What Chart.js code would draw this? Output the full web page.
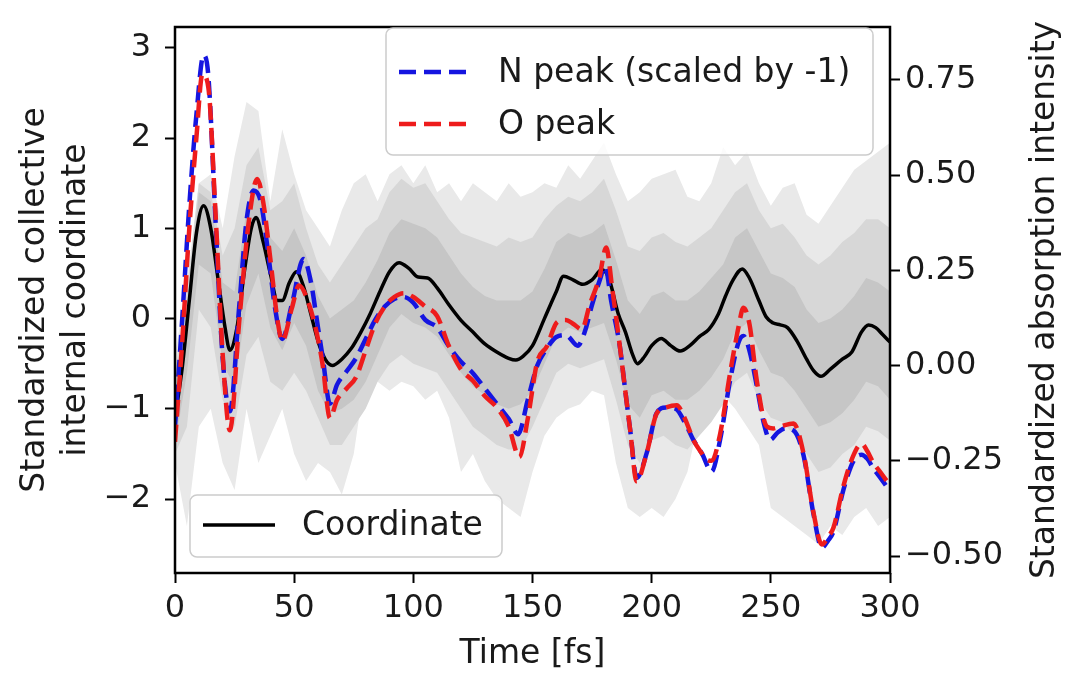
<!DOCTYPE html>
<html>
<head>
<meta charset="utf-8">
<script src="https://cdn.jsdelivr.net/npm/chart.js@4.4.1/dist/chart.umd.min.js"></script>
<style>
    html, body { margin: 0; padding: 0; background: #fff; }
    #wrap { width: 1070px; height: 675px; }
</style>
</head>
<body>
<div id="wrap"><canvas id="chart" width="1070" height="675"></canvas></div>
<script>
// 좌표 (왼쪽 축)
const coordTime = [0, 3, 6, 9, 12, 15, 18, 21, 23, 26, 29, 32, 34, 37, 40, 43, 45, 48, 51, 54, 57, 60, 63, 66, 70, 74, 78, 82, 86, 90, 94, 98, 102, 106, 110, 115, 120, 125, 130, 135, 140, 143, 146, 150, 155, 160, 163, 167, 171, 175, 179, 182, 186, 189, 192, 194, 197, 200, 204, 208, 212, 216, 220, 224, 228, 231, 234, 238, 241, 245, 248, 251, 254, 257, 261, 265, 268, 271, 275, 280, 284, 288, 291, 294, 297, 300];
const coordVals = [-1.1, -0.55, 0.2, 0.95, 1.25, 1.0, 0.45, -0.1, -0.35, -0.1, 0.5, 1.0, 1.12, 0.85, 0.5, 0.2, 0.2, 0.4, 0.52, 0.35, 0.05, -0.25, -0.45, -0.52, -0.45, -0.33, -0.15, 0.06, 0.3, 0.52, 0.62, 0.56, 0.46, 0.45, 0.34, 0.15, -0.02, -0.15, -0.28, -0.37, -0.44, -0.46, -0.42, -0.3, 0.0, 0.3, 0.47, 0.43, 0.38, 0.43, 0.54, 0.45, 0.05, -0.15, -0.4, -0.5, -0.42, -0.3, -0.22, -0.3, -0.36, -0.3, -0.2, -0.12, 0.05, 0.25, 0.42, 0.55, 0.45, 0.2, 0.02, -0.05, -0.07, -0.1, -0.25, -0.45, -0.58, -0.64, -0.56, -0.45, -0.37, -0.15, -0.07, -0.1, -0.18, -0.26];

// N 피크 (오른쪽 축, -1 배)
const nTime = [0, 3, 6, 9, 12, 14, 17, 20, 23, 27, 30, 33, 36, 39, 42, 45, 49, 54, 57, 60, 62, 65, 68, 72, 76, 80, 84, 88, 92, 96, 100, 105, 110, 115, 120, 125, 130, 135, 140, 144, 148, 152, 156, 160, 164, 169, 172, 175, 178, 180.5, 183, 186.7, 189, 191, 193.7, 197.9, 202, 206, 210, 214, 217.5, 221, 225.2, 228.7, 232.9, 236.4, 238.5, 241, 244, 247, 249.7, 253, 256, 259.5, 263.7, 267.9, 271.4, 274, 276.3, 280.5, 284.7, 288, 290.5, 293, 296, 300];
const nVals = [-0.16, 0.12, 0.42, 0.66, 0.815, 0.76, 0.38, 0.02, -0.12, 0.16, 0.38, 0.46, 0.43, 0.3, 0.15, 0.07, 0.16, 0.28, 0.22, 0.1, 0.02, -0.1, -0.05, -0.015, 0.02, 0.07, 0.12, 0.155, 0.175, 0.18, 0.165, 0.12, 0.1, 0.05, 0.01, -0.02, -0.06, -0.1, -0.14, -0.18, -0.09, 0.0, 0.045, 0.075, 0.08, 0.052, 0.09, 0.16, 0.22, 0.26, 0.17, 0.048, -0.07, -0.17, -0.295, -0.23, -0.126, -0.11, -0.113, -0.15, -0.195, -0.23, -0.278, -0.195, -0.039, 0.06, 0.078, 0.04, -0.05, -0.15, -0.195, -0.175, -0.165, -0.17, -0.235, -0.39, -0.478, -0.46, -0.435, -0.325, -0.25, -0.234, -0.245, -0.27, -0.295, -0.33];

// O 피크 (오른쪽 축)
const oTime = [0, 3, 6, 9, 11.5, 14, 17, 20, 23, 27, 31, 34.5, 37, 40, 43, 45, 49, 52, 56, 60, 62, 65, 68, 72, 76, 80, 84, 88, 92, 96, 100, 105, 110, 115, 120, 125, 130, 135, 140, 144.5, 148, 152, 156, 160.2, 164, 167, 170.7, 174, 178, 180.9, 183.5, 186.7, 189, 191, 193.7, 197.9, 202.1, 206, 210.5, 214, 217.5, 221, 223.1, 225.2, 228.7, 232.9, 236.4, 238.5, 241, 244.1, 248.3, 251, 253.9, 259.5, 263.7, 267.9, 271.4, 274, 276.3, 280.5, 284.7, 288.1, 290.5, 293, 296, 300];
const oVals = [-0.2, 0.06, 0.36, 0.6, 0.765, 0.73, 0.4, 0.03, -0.17, 0.12, 0.38, 0.49, 0.43, 0.28, 0.12, 0.065, 0.15, 0.21, 0.165, 0.07, 0.0, -0.138, -0.09, -0.06, -0.03, 0.04, 0.11, 0.155, 0.18, 0.19, 0.18, 0.155, 0.13, 0.05, -0.01, -0.04, -0.08, -0.11, -0.16, -0.24, -0.14, 0.01, 0.05, 0.113, 0.12, 0.11, 0.095, 0.16, 0.23, 0.31, 0.2, 0.048, -0.07, -0.17, -0.304, -0.23, -0.126, -0.11, -0.104, -0.14, -0.195, -0.23, -0.247, -0.25, -0.18, -0.02, 0.1, 0.152, 0.11, -0.039, -0.16, -0.165, -0.16, -0.152, -0.23, -0.386, -0.47, -0.45, -0.425, -0.315, -0.235, -0.205, -0.225, -0.255, -0.28, -0.315];

// 회색 분포 영역 (왼쪽 축)
const bandTime = [0, 5, 10, 15, 20, 25, 30, 35, 40, 45, 50, 55, 60, 65, 70, 75, 80, 85, 90, 95, 100, 105, 110, 115, 120, 125, 130, 135, 140, 145, 150, 155, 160, 165, 170, 175, 180, 185, 190, 195, 200, 205, 210, 215, 220, 225, 230, 235, 240, 245, 250, 255, 260, 265, 270, 275, 280, 285, 290, 295, 300];
const outerHi = [-0.4, 0.4, 1.5, 1.6, 1.0, 1.8, 2.4, 2.3, 1.3, 2.1, 1.6, 1.2, 1.0, 0.8, 1.2, 1.5, 1.6, 1.3, 1.6, 1.7, 1.5, 1.7, 1.4, 1.5, 1.3, 1.5, 1.4, 1.3, 1.5, 1.35, 1.4, 1.5, 1.45, 1.7, 1.55, 1.75, 1.95, 1.6, 1.3, 1.4, 1.55, 1.6, 1.65, 1.35, 1.3, 1.5, 1.9, 1.7, 1.85, 1.5, 1.25, 1.45, 1.5, 1.15, 1.05, 1.25, 1.45, 1.65, 1.75, 1.85, 1.95];
const outerLo = [-1.6, -2.3, -1.2, -1.0, -1.6, -1.9, -1.0, -1.6, -1.3, -1.0, -1.5, -1.8, -1.6, -1.7, -1.95, -1.5, -0.6, -0.7, -0.8, -0.7, -0.75, -0.9, -0.8, -1.1, -1.7, -1.5, -1.8, -2.0, -2.1, -2.2, -1.7, -1.3, -1.1, -1.0, -0.95, -0.8, -0.85, -1.6, -2.1, -2.2, -2.1, -2.2, -2.0, -1.7, -1.1, -0.85, -0.85, -1.0, -1.2, -1.4, -2.1, -2.2, -2.3, -2.4, -2.5, -2.3, -2.4, -2.2, -2.1, -2.3, -2.2];
const midHi = [-0.6, 0.3, 1.5, 1.4, 0.7, 1.0, 1.7, 1.9, 1.2, 1.3, 1.5, 1.0, 0.6, 0.4, 0.6, 0.8, 1.0, 1.1, 1.4, 1.55, 1.45, 1.5, 1.3, 1.1, 0.95, 0.9, 0.85, 0.8, 0.9, 0.85, 0.9, 1.1, 1.25, 1.35, 1.3, 1.4, 1.55, 1.2, 0.8, 0.75, 0.9, 0.95, 0.85, 0.8, 0.9, 1.0, 1.2, 1.4, 1.5, 1.2, 1.0, 1.05, 0.9, 0.7, 0.6, 0.7, 0.85, 0.95, 1.1, 1.1, 1.0];
const midLo = [-1.5, -1.2, 0.1, -0.1, -0.9, -1.2, -0.4, -0.2, -0.7, -0.8, -0.6, -0.8, -1.1, -1.4, -1.4, -1.2, -1.0, -0.7, -0.5, -0.4, -0.5, -0.55, -0.6, -0.8, -1.0, -1.2, -1.3, -1.4, -1.45, -1.45, -1.2, -0.9, -0.6, -0.5, -0.55, -0.5, -0.45, -0.9, -1.4, -1.6, -1.35, -1.3, -1.4, -1.45, -1.3, -1.15, -0.95, -0.7, -0.6, -0.9, -1.1, -1.15, -1.3, -1.5, -1.7, -1.65, -1.5, -1.4, -1.2, -1.25, -1.35];
const innerHi = [-0.8, 0.1, 1.4, 1.3, 0.4, 0.3, 1.2, 1.45, 0.9, 0.75, 1.0, 0.7, 0.25, 0.0, 0.1, 0.2, 0.4, 0.65, 0.95, 1.1, 1.05, 1.0, 0.9, 0.7, 0.5, 0.35, 0.25, 0.2, 0.2, 0.2, 0.3, 0.55, 0.85, 0.95, 0.9, 0.95, 1.05, 0.65, 0.2, 0.05, 0.25, 0.3, 0.2, 0.2, 0.3, 0.45, 0.6, 0.9, 1.0, 0.75, 0.5, 0.45, 0.35, 0.1, -0.05, 0.0, 0.1, 0.25, 0.45, 0.4, 0.3];
const innerLo = [-1.4, -0.6, 0.6, 0.5, -0.5, -0.75, 0.15, 0.5, -0.1, -0.35, -0.05, -0.3, -0.8, -1.05, -1.0, -0.9, -0.7, -0.4, -0.1, 0.05, -0.05, -0.1, -0.2, -0.4, -0.6, -0.75, -0.85, -0.95, -1.0, -0.95, -0.8, -0.5, -0.2, -0.1, -0.15, -0.1, -0.05, -0.45, -0.95, -1.1, -0.85, -0.8, -0.9, -0.9, -0.8, -0.65, -0.45, -0.15, -0.05, -0.35, -0.6, -0.65, -0.8, -1.0, -1.2, -1.15, -1.05, -0.9, -0.7, -0.75, -0.9];

const xTitle = 'Time [fs]';
const leftTitle = ['Standardized collective', 'internal coordinate'];
const rightTitle = 'Standardized absorption intensity';

const textColor = '#1a1a1a';
const fontFamily = "'DejaVu Sans', sans-serif";
const minusSign = (s) => s.replace('-', '\u2212');

function toPoints(xs, ys) {
    return xs.map((x, i) => ({ x: x, y: ys[i] }));
}

function band(label, values, color, order) {
    return {
        label: label,
        data: toPoints(bandTime, values),
        yAxisID: 'y',
        borderWidth: 0,
        pointRadius: 0,
        tension: 0,
        fill: color ? '+1' : false,
        backgroundColor: color || 'transparent',
        order: order
    };
}

// 범례 그리기
function drawLegend(ctx, box, items) {
    ctx.save();
    ctx.beginPath();
    ctx.roundRect(box.x, box.y, box.w, box.h, 7);
    ctx.fillStyle = 'rgba(255,255,255,0.8)';
    ctx.fill();
    ctx.strokeStyle = '#cccccc';
    ctx.lineWidth = 1.5;
    ctx.stroke();
    ctx.font = '33px ' + fontFamily;
    ctx.textBaseline = 'middle';
    ctx.textAlign = 'left';
    items.forEach(item => {
        ctx.beginPath();
        ctx.setLineDash(item.dash);
        ctx.strokeStyle = item.color;
        ctx.lineWidth = item.width;
        ctx.moveTo(box.x + 13, item.y);
        ctx.lineTo(box.x + 85, item.y);
        ctx.stroke();
        ctx.setLineDash([]);
        ctx.fillStyle = textColor;
        ctx.fillText(item.label, box.x + 112, item.y + 1);
    });
    ctx.restore();
}

const extrasPlugin = {
    id: 'extras',
    afterDraw(chart) {
        const ctx = chart.ctx;
        const a = chart.chartArea;
        ctx.save();
        ctx.strokeStyle = '#000';
        ctx.lineWidth = 2.5;
        ctx.strokeRect(a.left, a.top, a.right - a.left, a.bottom - a.top);

        // 오른쪽 축 제목 (아래에서 위로)
        ctx.fillStyle = textColor;
        ctx.font = '33px ' + fontFamily;
        ctx.textAlign = 'center';
        ctx.textBaseline = 'middle';
        ctx.translate(1045, (a.top + a.bottom) / 2);
        ctx.rotate(-Math.PI / 2);
        ctx.fillText(rightTitle, 0, 0);
        ctx.restore();

        drawLegend(ctx, { x: a.left + 211, y: a.top + 1, w: 487, h: 127 }, [
            { label: 'N peak (scaled by -1)', color: '#1515e0', dash: [17, 8], width: 4.5, y: a.top + 45 },
            { label: 'O peak', color: '#ee1c1c', dash: [17, 8], width: 4.5, y: a.top + 97 }
        ]);
        drawLegend(ctx, { x: a.left + 15, y: a.bottom - 78, w: 312, h: 62 }, [
            { label: 'Coordinate', color: '#000', dash: [], width: 3.5, y: a.bottom - 48 }
        ]);
    }
};

function createChart() {
    const ctx = document.getElementById('chart').getContext('2d');

    const datasets = [
        { label: 'N peak (scaled by -1)', data: toPoints(nTime, nVals), yAxisID: 'y1',
          borderColor: '#1515e0', borderWidth: 4.5, borderDash: [17, 8], pointRadius: 0,
          cubicInterpolationMode: 'monotone', fill: false, order: 1 },
        { label: 'O peak', data: toPoints(oTime, oVals), yAxisID: 'y1',
          borderColor: '#ee1c1c', borderWidth: 4.5, borderDash: [17, 8], pointRadius: 0,
          cubicInterpolationMode: 'monotone', fill: false, order: 0 },
        { label: 'Coordinate', data: toPoints(coordTime, coordVals), yAxisID: 'y',
          borderColor: '#000', borderWidth: 3.5, pointRadius: 0,
          cubicInterpolationMode: 'monotone', fill: false, order: 2 },
        band('outerHi', outerHi, '#e9e9e9', 5),
        band('outerLo', outerLo, null, 5),
        band('midHi', midHi, '#d7d7d7', 4),
        band('midLo', midLo, null, 4),
        band('innerHi', innerHi, '#c6c6c6', 3),
        band('innerLo', innerLo, null, 3)
    ];

    const tickGrid = {
        display: true,
        drawOnChartArea: false,
        drawTicks: true,
        tickLength: 10,
        tickWidth: 2,
        tickColor: '#000'
    };

    // 축 라벨 여백이 차트 영역을 밀어내지 않도록
    const fixWidth = (w) => (scale) => {
        scale.width = w;
        scale.paddingTop = 0;
        scale.paddingBottom = 0;
    };

    new Chart(ctx, {
        type: 'line',
        data: { datasets: datasets },
        options: {
            responsive: false,
            animation: false,
            events: [],
            layout: { padding: { top: 27, left: 0, right: 0, bottom: 0 } },
            plugins: {
                legend: { display: false },
                tooltip: { enabled: false }
            },
            scales: {
                x: {
                    type: 'linear',
                    min: 0,
                    max: 300,
                    border: { display: false },
                    grid: tickGrid,
                    ticks: { stepSize: 50, padding: 6, color: textColor, font: { size: 32 } },
                    title: { display: true, text: xTitle, color: textColor, font: { size: 33 }, padding: { top: 0, bottom: 1 } },
                    afterFit: (scale) => { scale.height = 102; }
                },
                y: {
                    type: 'linear',
                    position: 'left',
                    min: -2.82,
                    max: 3.232,
                    border: { display: false },
                    grid: tickGrid,
                    ticks: {
                        stepSize: 1,
                        includeBounds: false,
                        padding: 14,
                        color: textColor,
                        font: { size: 32 },
                        callback: (v) => minusSign(String(v))
                    },
                    title: { display: true, text: leftTitle, color: textColor, font: { size: 33, lineHeight: 1.27 }, padding: { top: 14, bottom: 0 } },
                    afterFit: fixWidth(175)
                },
                y1: {
                    type: 'linear',
                    position: 'right',
                    min: -0.5446,
                    max: 0.889,
                    border: { display: false },
                    grid: tickGrid,
                    ticks: {
                        stepSize: 0.25,
                        includeBounds: false,
                        padding: 5,
                        color: textColor,
                        font: { size: 32 },
                        callback: (v) => minusSign(v.toFixed(2))
                    },
                    afterFit: fixWidth(180)
                }
            }
        },
        plugins: [extrasPlugin]
    });
}

Chart.defaults.font.family = fontFamily;
createChart();
</script>
</body>
</html>
